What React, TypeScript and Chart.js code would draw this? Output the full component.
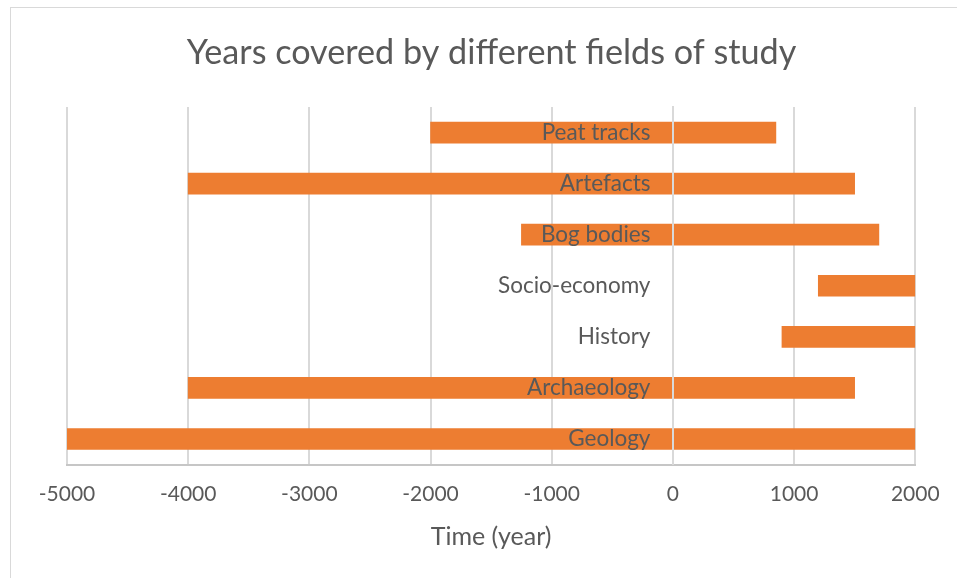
import React, { useEffect, useRef } from "react";
import { Chart, registerables } from "chart.js";

Chart.register(...registerables);

// Fields of study and the span of years each one covers
const categories = [
  "Peat tracks",
  "Artefacts",
  "Bog bodies",
  "Socio-economy",
  "History",
  "Archaeology",
  "Geology",
];
const startYears = [-2000, -4000, -1250, 1200, 900, -4000, -5000];
const endYears = [850, 1500, 1700, 2000, 2000, 1500, 2000];

const axisMin = -5000;
const axisMax = 2000;
const axisStep = 1000;

const TEXT = "#595959";
const GRID = "#d9d9d9";
const BAR = "#ED7D31";
const FONT = "Lato, 'Open Sans', sans-serif";

export default function App() {
  const canvasRef = useRef<HTMLCanvasElement | null>(null);

  useEffect(() => {
    const canvas = canvasRef.current;
    if (!canvas) return;
    const chart = new Chart(canvas, {
      type: "bar",
      data: {
        labels: categories,
        datasets: [
          {
            data: categories.map((_, i) => [startYears[i], endYears[i]]),
            backgroundColor: BAR,
            borderWidth: 0,
            barThickness: 21,
            xAxisID: "x",
            yAxisID: "y",
          },
        ],
      },
      options: {
        indexAxis: "y",
        animation: false,
        responsive: false,
        maintainAspectRatio: false,
        layout: { padding: { left: 67, right: 41, top: 0, bottom: 0 } },
        plugins: {
          legend: { display: false },
          tooltip: { enabled: false },
          title: {
            display: true,
            text: "Years covered by different fields of study",
            color: TEXT,
            font: { family: FONT, size: 34.2, weight: "normal" },
            padding: { top: 32.5, bottom: 33.5 },
          },
        },
        scales: {
          x: {
            type: "linear",
            min: axisMin,
            max: axisMax,
            ticks: {
              stepSize: axisStep,
              color: TEXT,
              font: { family: FONT, size: 21 },
              padding: 17.4,
              callback: (v) => String(v),
            },
            grid: { color: GRID, lineWidth: 2, drawTicks: false },
            border: { display: true, color: "#c6c6c6", width: 2 },
            title: {
              display: true,
              text: "Time (year)",
              color: TEXT,
              font: { family: FONT, size: 25, lineHeight: 1 },
              padding: { top: 0, bottom: 28.5 },
            },
          },
          // category labels, set just left of the zero line
          y: {
            type: "category",
            position: { x: -185 } as any,
            grid: { display: false },
            border: { display: false },
            ticks: {
              color: TEXT,
              font: { family: FONT, size: 22.5 },
              z: 1,
            },
          },
          // the vertical axis line at year 0, drawn over the bars
          yZero: {
            type: "category",
            axis: "y",
            position: { x: 0 } as any,
            grid: { display: false },
            ticks: { display: false },
            border: { display: true, color: GRID, width: 2, z: 1 } as any,
          },
        },
      },
    });
    return () => chart.destroy();
  }, []);

  return (
    <div style={{ position: "fixed", left: 0, top: 0, width: 957, height: 578, background: "#fff" }}>
      <div
        style={{
          position: "absolute",
          left: 10,
          top: 7,
          right: -2,
          bottom: -2,
          borderLeft: `1px solid ${GRID}`,
          borderTop: `1px solid ${GRID}`,
        }}
      />
      <canvas
        ref={canvasRef}
        width={957}
        height={578}
        style={{ position: "absolute", left: 0, top: 0, width: 957, height: 578 }}
      />
    </div>
  );
}
